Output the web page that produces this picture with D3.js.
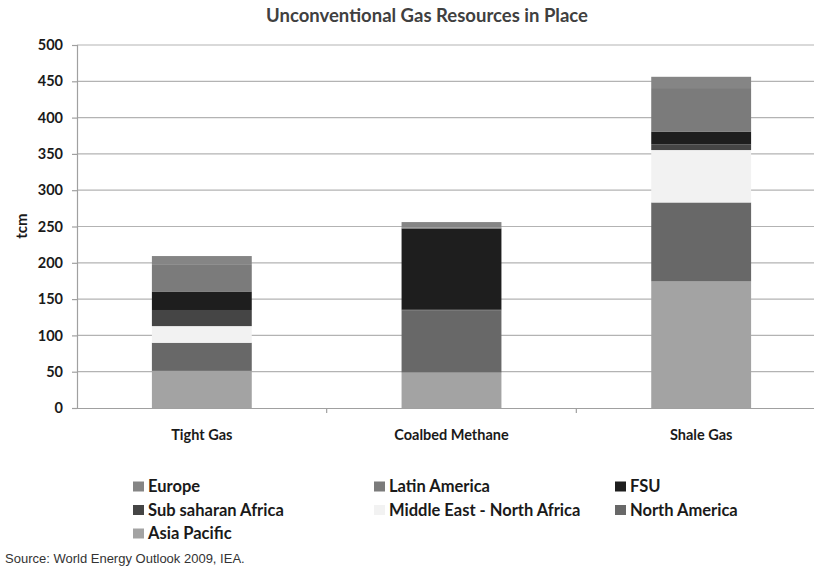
<!DOCTYPE html>
<html>
<head>
<meta charset="utf-8">
<script src="https://cdn.jsdelivr.net/npm/d3@7"></script>
<style>
  html, body { margin: 0; padding: 0; background: #fff; }
  svg { display: block; }
</style>
</head>
<body>
<svg id="chart" width="814" height="567"></svg>
<script>
// ---- Data (tcm) ----
const categories = ["Tight Gas", "Coalbed Methane", "Shale Gas"];
const seriesNames = ["Asia Pacific", "North America", "Middle East - North Africa", "Sub saharan Africa", "FSU", "Latin America", "Europe"];
const asiaPacific   = [51.1, 48.8, 174.3];
const northAmerica  = [38.8, 85.4, 108.8];
const middleEastNA  = [22.9, 0.0, 72.2];
const subSaharan    = [22.2, 1.1, 7.8];
const fsu           = [25.5, 112.0, 17.7];
const latinAmerica  = [36.6, 1.1, 59.9];
const europe        = [12.2, 7.7, 15.5];
const yTicks = [0, 50, 100, 150, 200, 250, 300, 350, 400, 450, 500];
const legendOrder = ["Europe", "Latin America", "FSU", "Sub saharan Africa", "Middle East - North Africa", "North America", "Asia Pacific"];

const seriesValues = [asiaPacific, northAmerica, middleEastNA, subSaharan, fsu, latinAmerica, europe];
const colors = {
  "Asia Pacific": "#a3a3a3",
  "North America": "#686868",
  "Middle East - North Africa": "#f2f2f2",
  "Sub saharan Africa": "#454545",
  "FSU": "#1e1e1e",
  "Latin America": "#7b7b7b",
  "Europe": "#858585"
};

const rows = categories.map((c, i) => {
  const r = { category: c };
  seriesNames.forEach((s, k) => { r[s] = seriesValues[k][i]; });
  return r;
});
const stacked = d3.stack().keys(seriesNames)(rows);

const svg = d3.select("#chart");
const font = "Lato, 'Open Sans', sans-serif";

const y = d3.scaleLinear().domain([0, 500]).range([408, 45]);
const x = d3.scaleBand().domain(categories).range([77, 826]).padding(0);
const barW = x.bandwidth() * 0.4;

// Gridlines
svg.append("g").selectAll("line").data(yTicks.filter(t => t > 0)).join("line")
  .attr("x1", 77).attr("x2", 826)
  .attr("y1", d => y(d)).attr("y2", d => y(d))
  .attr("stroke", "#b3b3b3").attr("stroke-width", 1.2);

// Bars
svg.append("g").selectAll("g").data(stacked).join("g")
  .attr("fill", d => colors[d.key])
  .selectAll("rect").data(d => d).join("rect")
  .attr("x", d => x(d.data.category) + (x.bandwidth() - barW) / 2)
  .attr("width", barW)
  .attr("y", d => y(d[1]))
  .attr("height", d => Math.max(0, y(d[0]) - y(d[1])));

// Y axis
const yAxis = d3.axisLeft(y).tickValues(yTicks).tickSize(5).tickPadding(9);
const yg = svg.append("g").attr("transform", "translate(77,0)").call(yAxis);
yg.select(".domain").attr("stroke", "#a0a0a0").attr("stroke-width", 1.2);
yg.selectAll(".tick line").attr("stroke", "#a0a0a0").attr("stroke-width", 1.2);
yg.selectAll("text").attr("font-family", font).attr("font-weight", "bold")
  .attr("font-size", 14.5).attr("fill", "#1a1a1a");

// X axis
const xAxis = d3.axisBottom(x).tickSize(0).tickPadding(22);
const xg = svg.append("g").attr("transform", "translate(0,408)").call(xAxis);
xg.select(".domain").attr("stroke", "#a0a0a0").attr("stroke-width", 1.2);
xg.selectAll("text").attr("font-family", font).attr("font-weight", "bold")
  .attr("font-size", 14.5).attr("fill", "#1a1a1a");
// category separators
xg.selectAll(".sep").data(categories.slice(1)).join("line").attr("class", "sep")
  .attr("x1", d => x(d)).attr("x2", d => x(d))
  .attr("y1", 0).attr("y2", 5)
  .attr("stroke", "#a0a0a0").attr("stroke-width", 1.2);

// Title
svg.append("text").attr("x", 427).attr("y", 22).attr("text-anchor", "middle")
  .attr("font-family", font).attr("font-weight", "bold").attr("font-size", 18.5)
  .attr("fill", "#404040").text("Unconventional Gas Resources in Place");

// Y label
svg.append("text").attr("transform", "translate(27,226) rotate(-90)")
  .attr("text-anchor", "middle").attr("font-family", font).attr("font-weight", "bold")
  .attr("font-size", 15).attr("fill", "#1a1a1a").text("tcm");

// Legend
const colX = [133, 374, 615];
const rowY = [492, 515.5, 539];
const lg = svg.append("g").selectAll("g").data(legendOrder).join("g")
  .attr("transform", (d, i) => `translate(${colX[i % 3]},${rowY[Math.floor(i / 3)]})`);
lg.append("rect").attr("x", 0).attr("y", -10.5).attr("width", 11).attr("height", 10)
  .attr("fill", d => colors[d]);
lg.append("text").attr("x", 15).attr("y", 0)
  .attr("font-family", font).attr("font-weight", "bold").attr("font-size", 16.5)
  .attr("fill", "#1a1a1a").text(d => d);

// Source
svg.append("text").attr("x", 5).attr("y", 563)
  .attr("font-family", "'Liberation Sans', Arial, sans-serif").attr("font-size", 13)
  .attr("fill", "#333").text("Source: World Energy Outlook 2009, IEA.");
</script>
</body>
</html>
